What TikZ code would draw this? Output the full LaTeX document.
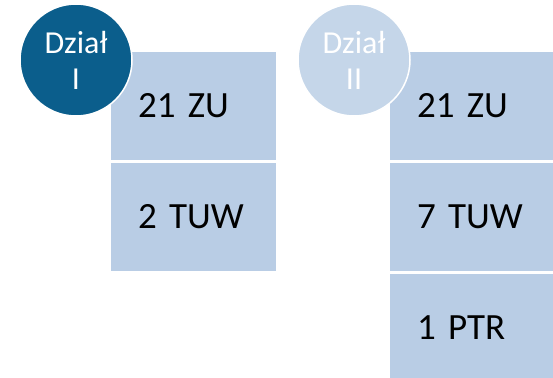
\documentclass[tikz,border=0pt]{standalone}
\usepackage{fontspec}
\setmainfont{Carlito}
\definecolor{boxblue}{HTML}{B9CDE5}
\definecolor{darkcirc}{HTML}{0B5E8C}
\definecolor{lightcirc}{HTML}{C5D6E9}
\begin{document}
\begin{tikzpicture}[x=1pt,y=-1pt,
  itembox/.style={fill=boxblue, draw=white, line width=2pt, anchor=north west,
    minimum width=167pt, minimum height=110pt, text width=111pt, align=left,
    inner xsep=28pt, inner ysep=0pt, font=\fontsize{37}{40}\selectfont, text=black},
  headcirc/.style={circle, draw=white, line width=1.5pt, minimum size=112pt,
    inner sep=0pt, align=center, text=white, font=\fontsize{32}{36}\selectfont}]
\useasboundingbox (0,0) rectangle (553,377);
% group I
\node[itembox] (a1) at (109,50) {21 ZU};
\node[itembox] (a2) at (109,161) {2 TUW};
\node[headcirc, fill=darkcirc] (c1) at (76,60) {Dział\\I};
% group II
\node[itembox] (b1) at (388,50) {21 ZU};
\node[itembox] (b2) at (388,161) {7 TUW};
\node[itembox] (b3) at (388,272) {1 PTR};
\node[headcirc, fill=lightcirc] (c2) at (354,60) {Dział\\II};
\end{tikzpicture}
\end{document}
